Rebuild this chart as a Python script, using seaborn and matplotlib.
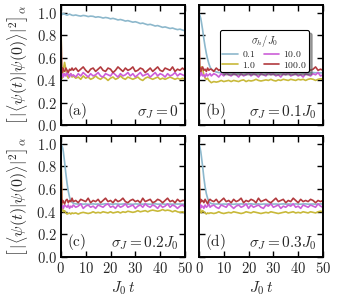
import numpy as np
import pandas as pd
import matplotlib
matplotlib.use("Agg")
import matplotlib.pyplot as plt
import seaborn as sns

# tiempo (J0 t): paso fino al principio, luego de a 1
t = [0, 0.25, 0.5, 0.75, 1, 1.5, 2, 2.5, 3, 3.5, 4, 4.5] + list(range(5, 51))

sigma_h = ["0.1", "1.0", "10.0", "100.0"]
colores = ["#8db8cc", "#c8b93a", "#cc5fd8", "#b23a3e"]

# ---------------- panel (a): sigma_J = 0 ----------------
blue_a = [1.00, 0.99, 0.985, 0.99, 0.995, 0.99, 0.985, 0.98, 0.985, 0.99, 0.985, 0.98,
          0.978, 0.982, 0.976, 0.972, 0.978, 0.975, 0.968, 0.972, 0.970, 0.962,
          0.966, 0.962, 0.955, 0.960, 0.956, 0.948, 0.952, 0.946, 0.938, 0.942,
          0.936, 0.928, 0.932, 0.925, 0.918, 0.922, 0.915, 0.906, 0.910, 0.902,
          0.895, 0.899, 0.892, 0.884, 0.888, 0.880, 0.872, 0.876, 0.869, 0.862,
          0.866, 0.858, 0.852, 0.856, 0.848, 0.842]
yellow_a = [1.00, 0.62, 0.42, 0.45, 0.50, 0.56, 0.50, 0.44, 0.42, 0.45, 0.46, 0.43,
            0.44, 0.42, 0.43, 0.41, 0.44, 0.42, 0.43, 0.41, 0.42, 0.44,
            0.42, 0.41, 0.43, 0.42, 0.40, 0.42, 0.43, 0.41, 0.42, 0.44,
            0.42, 0.41, 0.43, 0.42, 0.41, 0.42, 0.43, 0.41, 0.40, 0.42,
            0.43, 0.42, 0.41, 0.42, 0.43, 0.41, 0.42, 0.41, 0.42, 0.43,
            0.42, 0.41, 0.42, 0.41, 0.42, 0.41]
magenta_a = [1.00, 0.47, 0.44, 0.46, 0.43, 0.46, 0.44, 0.47, 0.45, 0.43, 0.46, 0.44,
             0.45, 0.43, 0.46, 0.44, 0.47, 0.45, 0.43, 0.46, 0.44, 0.45,
             0.47, 0.44, 0.43, 0.46, 0.45, 0.44, 0.47, 0.45, 0.43, 0.46,
             0.44, 0.45, 0.47, 0.44, 0.46, 0.43, 0.45, 0.47, 0.44, 0.45,
             0.46, 0.43, 0.45, 0.47, 0.44, 0.46, 0.45, 0.43, 0.46, 0.44,
             0.45, 0.47, 0.44, 0.46, 0.45, 0.44]
red_a = [1.00, 0.50, 0.47, 0.51, 0.49, 0.48, 0.51, 0.49, 0.47, 0.50, 0.49, 0.51,
         0.49, 0.51, 0.48, 0.50, 0.52, 0.49, 0.47, 0.50, 0.51, 0.48,
         0.50, 0.52, 0.49, 0.48, 0.51, 0.50, 0.47, 0.49, 0.52, 0.50,
         0.48, 0.51, 0.49, 0.50, 0.52, 0.48, 0.49, 0.51, 0.50, 0.47,
         0.49, 0.51, 0.48, 0.50, 0.52, 0.49, 0.48, 0.51, 0.50, 0.49,
         0.52, 0.48, 0.50, 0.49, 0.51, 0.49]

# ---------------- panel (b): sigma_J = 0.1 J0 ----------------
blue_b = [1.00, 0.99, 0.97, 0.95, 0.92, 0.85, 0.77, 0.70, 0.64, 0.59, 0.55, 0.52,
          0.50, 0.485, 0.475, 0.47, 0.468, 0.47, 0.466, 0.468, 0.47, 0.467,
          0.469, 0.466, 0.468, 0.471, 0.467, 0.469, 0.466, 0.470, 0.468, 0.467,
          0.469, 0.471, 0.467, 0.468, 0.466, 0.470, 0.468, 0.469, 0.467, 0.470,
          0.468, 0.466, 0.469, 0.471, 0.467, 0.468, 0.470, 0.466, 0.469, 0.468,
          0.467, 0.470, 0.468, 0.469, 0.467, 0.468]
yellow_b = [1.00, 0.60, 0.46, 0.48, 0.52, 0.50, 0.45, 0.42, 0.41, 0.42, 0.40, 0.39,
            0.38, 0.39, 0.385, 0.39, 0.40, 0.39, 0.395, 0.40, 0.39, 0.40,
            0.395, 0.39, 0.40, 0.405, 0.39, 0.40, 0.395, 0.40, 0.41, 0.40,
            0.395, 0.40, 0.405, 0.40, 0.41, 0.40, 0.395, 0.405, 0.40, 0.41,
            0.405, 0.40, 0.41, 0.405, 0.40, 0.41, 0.405, 0.41, 0.40, 0.41,
            0.415, 0.41, 0.40, 0.41, 0.415, 0.41]
magenta_b = [1.00, 0.46, 0.44, 0.45, 0.47, 0.44, 0.45, 0.43, 0.46, 0.44, 0.45, 0.46,
             0.44, 0.46, 0.45, 0.43, 0.46, 0.44, 0.47, 0.45, 0.44, 0.46,
             0.45, 0.43, 0.46, 0.44, 0.45, 0.47, 0.44, 0.46, 0.45, 0.43,
             0.46, 0.45, 0.44, 0.47, 0.45, 0.46, 0.44, 0.45, 0.43, 0.46,
             0.45, 0.47, 0.44, 0.45, 0.46, 0.44, 0.45, 0.43, 0.46, 0.45,
             0.44, 0.46, 0.45, 0.47, 0.44, 0.45]
red_b = [1.00, 0.49, 0.51, 0.48, 0.50, 0.52, 0.49, 0.50, 0.48, 0.51, 0.49, 0.50,
         0.50, 0.48, 0.51, 0.49, 0.50, 0.52, 0.48, 0.49, 0.51, 0.50,
         0.48, 0.50, 0.52, 0.49, 0.51, 0.48, 0.50, 0.49, 0.52, 0.50,
         0.49, 0.51, 0.48, 0.50, 0.51, 0.49, 0.52, 0.50, 0.48, 0.51,
         0.50, 0.49, 0.51, 0.48, 0.50, 0.52, 0.49, 0.50, 0.48, 0.51,
         0.49, 0.50, 0.52, 0.49, 0.50, 0.49]

# ---------------- panel (c): sigma_J = 0.2 J0 ----------------
blue_c = [1.00, 0.99, 0.98, 0.96, 0.93, 0.84, 0.74, 0.65, 0.58, 0.53, 0.50, 0.485,
          0.475, 0.470, 0.468, 0.470, 0.467, 0.469, 0.466, 0.468, 0.470, 0.467,
          0.469, 0.466, 0.468, 0.471, 0.467, 0.469, 0.466, 0.470, 0.468, 0.467,
          0.469, 0.471, 0.467, 0.468, 0.466, 0.470, 0.468, 0.469, 0.467, 0.470,
          0.468, 0.466, 0.469, 0.471, 0.467, 0.468, 0.470, 0.466, 0.469, 0.468,
          0.467, 0.470, 0.468, 0.469, 0.467, 0.468]
yellow_c = [1.00, 0.70, 0.48, 0.42, 0.40, 0.41, 0.39, 0.38, 0.385, 0.39, 0.38, 0.39,
            0.385, 0.39, 0.38, 0.39, 0.395, 0.39, 0.385, 0.39, 0.40, 0.39,
            0.395, 0.39, 0.40, 0.395, 0.39, 0.40, 0.39, 0.395, 0.40, 0.39,
            0.40, 0.395, 0.405, 0.40, 0.395, 0.40, 0.41, 0.40, 0.405, 0.41,
            0.40, 0.41, 0.415, 0.41, 0.405, 0.41, 0.42, 0.41, 0.415, 0.41,
            0.40, 0.41, 0.40, 0.395, 0.40, 0.39]
magenta_c = [1.00, 0.46, 0.44, 0.45, 0.43, 0.46, 0.45, 0.44, 0.46, 0.43, 0.45, 0.44,
             0.46, 0.44, 0.45, 0.47, 0.43, 0.45, 0.46, 0.44, 0.45, 0.43,
             0.46, 0.45, 0.44, 0.46, 0.47, 0.44, 0.45, 0.43, 0.46, 0.44,
             0.45, 0.47, 0.44, 0.45, 0.46, 0.43, 0.45, 0.46, 0.44, 0.47,
             0.45, 0.44, 0.46, 0.45, 0.43, 0.46, 0.44, 0.45, 0.47, 0.44,
             0.46, 0.45, 0.43, 0.45, 0.46, 0.44]
red_c = [1.00, 0.51, 0.48, 0.50, 0.49, 0.47, 0.50, 0.51, 0.48, 0.50, 0.49, 0.52,
         0.49, 0.50, 0.48, 0.51, 0.50, 0.49, 0.52, 0.48, 0.50, 0.49,
         0.51, 0.48, 0.50, 0.52, 0.49, 0.50, 0.48, 0.51, 0.49, 0.50,
         0.52, 0.49, 0.48, 0.50, 0.51, 0.49, 0.50, 0.48, 0.52, 0.49,
         0.50, 0.51, 0.48, 0.49, 0.51, 0.50, 0.48, 0.50, 0.52, 0.49,
         0.50, 0.48, 0.51, 0.49, 0.50, 0.50]

# ---------------- panel (d): sigma_J = 0.3 J0 ----------------
blue_d = [1.00, 0.985, 0.96, 0.93, 0.89, 0.80, 0.70, 0.62, 0.56, 0.52, 0.49, 0.48,
          0.472, 0.469, 0.468, 0.470, 0.466, 0.469, 0.467, 0.470, 0.468, 0.466,
          0.469, 0.467, 0.470, 0.468, 0.466, 0.469, 0.471, 0.467, 0.468, 0.470,
          0.466, 0.469, 0.468, 0.467, 0.470, 0.468, 0.469, 0.466, 0.468, 0.470,
          0.467, 0.469, 0.468, 0.466, 0.470, 0.468, 0.467, 0.469, 0.470, 0.467,
          0.468, 0.469, 0.466, 0.468, 0.470, 0.468]
yellow_d = [1.00, 0.65, 0.45, 0.40, 0.39, 0.41, 0.40, 0.39, 0.38, 0.39, 0.385, 0.39,
            0.39, 0.385, 0.39, 0.40, 0.39, 0.385, 0.39, 0.395, 0.39, 0.40,
            0.395, 0.39, 0.385, 0.39, 0.40, 0.395, 0.39, 0.40, 0.395, 0.39,
            0.385, 0.39, 0.395, 0.39, 0.40, 0.395, 0.39, 0.385, 0.39, 0.395,
            0.40, 0.39, 0.395, 0.40, 0.39, 0.395, 0.39, 0.40, 0.395, 0.39,
            0.40, 0.395, 0.39, 0.40, 0.405, 0.40]
magenta_d = [1.00, 0.45, 0.43, 0.46, 0.44, 0.45, 0.43, 0.46, 0.44, 0.45, 0.47, 0.44,
             0.45, 0.46, 0.44, 0.43, 0.46, 0.45, 0.44, 0.47, 0.45, 0.43,
             0.45, 0.46, 0.44, 0.45, 0.47, 0.43, 0.46, 0.44, 0.45, 0.46,
             0.44, 0.43, 0.46, 0.45, 0.47, 0.44, 0.45, 0.46, 0.43, 0.45,
             0.44, 0.46, 0.45, 0.47, 0.44, 0.45, 0.43, 0.46, 0.45, 0.44,
             0.46, 0.45, 0.44, 0.47, 0.45, 0.44]
red_d = [1.00, 0.50, 0.48, 0.51, 0.49, 0.50, 0.48, 0.51, 0.49, 0.47, 0.50, 0.51,
         0.50, 0.49, 0.51, 0.48, 0.50, 0.52, 0.49, 0.50, 0.48, 0.51,
         0.49, 0.50, 0.52, 0.48, 0.50, 0.49, 0.51, 0.50, 0.48, 0.52,
         0.49, 0.50, 0.51, 0.49, 0.48, 0.50, 0.52, 0.49, 0.50, 0.51,
         0.48, 0.50, 0.49, 0.52, 0.50, 0.48, 0.51, 0.49, 0.50, 0.49,
         0.51, 0.50, 0.48, 0.50, 0.49, 0.50]

paneles = [
    ("(a)", r"$\sigma_J = 0$", [blue_a, yellow_a, magenta_a, red_a]),
    ("(b)", r"$\sigma_J = 0.1J_0$", [blue_b, yellow_b, magenta_b, red_b]),
    ("(c)", r"$\sigma_J = 0.2J_0$", [blue_c, yellow_c, magenta_c, red_c]),
    ("(d)", r"$\sigma_J = 0.3J_0$", [blue_d, yellow_d, magenta_d, red_d]),
]

sns.set_theme(style="ticks")
plt.rcParams["font.family"] = ["DejaVu Serif"]
plt.rcParams["mathtext.fontset"] = "cm"
plt.rcParams["axes.linewidth"] = 1.4
plt.rcParams["xtick.direction"] = "in"
plt.rcParams["ytick.direction"] = "in"

fig = plt.figure(figsize=(3.4, 3.0), dpi=100)
posiciones = [
    [0.179, 0.582, 0.365, 0.401],
    [0.585, 0.582, 0.365, 0.401],
    [0.179, 0.143, 0.365, 0.404],
    [0.585, 0.143, 0.365, 0.404],
]

ylabel = r"$\left[\,|\langle\psi(t)|\psi(0)\rangle|^2\right]_\alpha$"

for k, (letra, sig, series) in enumerate(paneles):
    ax = fig.add_axes(posiciones[k])
    filas = []
    for nombre, vals in zip(sigma_h, series):
        for ti, v in zip(t, vals):
            filas.append({"t": ti, "F": v, "sigma": nombre})
    df = pd.DataFrame(filas)
    sns.lineplot(data=df, x="t", y="F", hue="sigma", hue_order=sigma_h,
                 palette=dict(zip(sigma_h, colores)), linewidth=1.2,
                 legend=False, ax=ax)
    ax.set_xlim(0, 50)
    ax.set_ylim(0, 1.07)
    ax.set_xticks([0, 10, 20, 30, 40, 50])
    ax.set_yticks([0.0, 0.2, 0.4, 0.6, 0.8, 1.0])
    ax.tick_params(top=True, right=True, length=4, width=1.0, color="black",
                   labelsize=10.5, pad=3)
    for s in ax.spines.values():
        s.set_color("black")
    if k % 2 == 0:
        ax.set_yticklabels(["$%.1f$" % v for v in ax.get_yticks()])
        ax.set_ylabel(ylabel, fontsize=11.5)
        ax.yaxis.set_label_coords(-0.245, 0.5)
    else:
        ax.set_yticklabels([])
        ax.set_ylabel("")
    if k >= 2:
        ax.set_xticklabels(["$%d$" % v for v in ax.get_xticks()])
        ax.set_xlabel(r"$J_0\,t$", fontsize=11, labelpad=2)
    else:
        ax.set_xticklabels([])
        ax.set_xlabel("")
    ax.text(0.05, 0.04, r"$\mathrm{%s}$" % letra, transform=ax.transAxes,
            fontsize=11, ha="left", va="bottom")
    ax.text(0.95, 0.04, sig, transform=ax.transAxes,
            fontsize=11, ha="right", va="bottom")
    if k == 1:
        handles = ax.get_lines()[:4]
        leg = ax.legend(handles, ["$%s$" % s for s in sigma_h], ncol=2,
                        title=r"$\sigma_h/J_0$", fontsize=7, title_fontsize=7.5,
                        loc="upper right", bbox_to_anchor=(0.89, 0.79),
                        frameon=True, fancybox=True, shadow=True, framealpha=1,
                        handlelength=1.6, handletextpad=0.4, columnspacing=0.8,
                        labelspacing=0.05, borderpad=0.25, borderaxespad=0)
        leg.get_frame().set_edgecolor("black")
        leg.get_frame().set_linewidth(0.8)

fig.savefig("out.png", dpi=100)
